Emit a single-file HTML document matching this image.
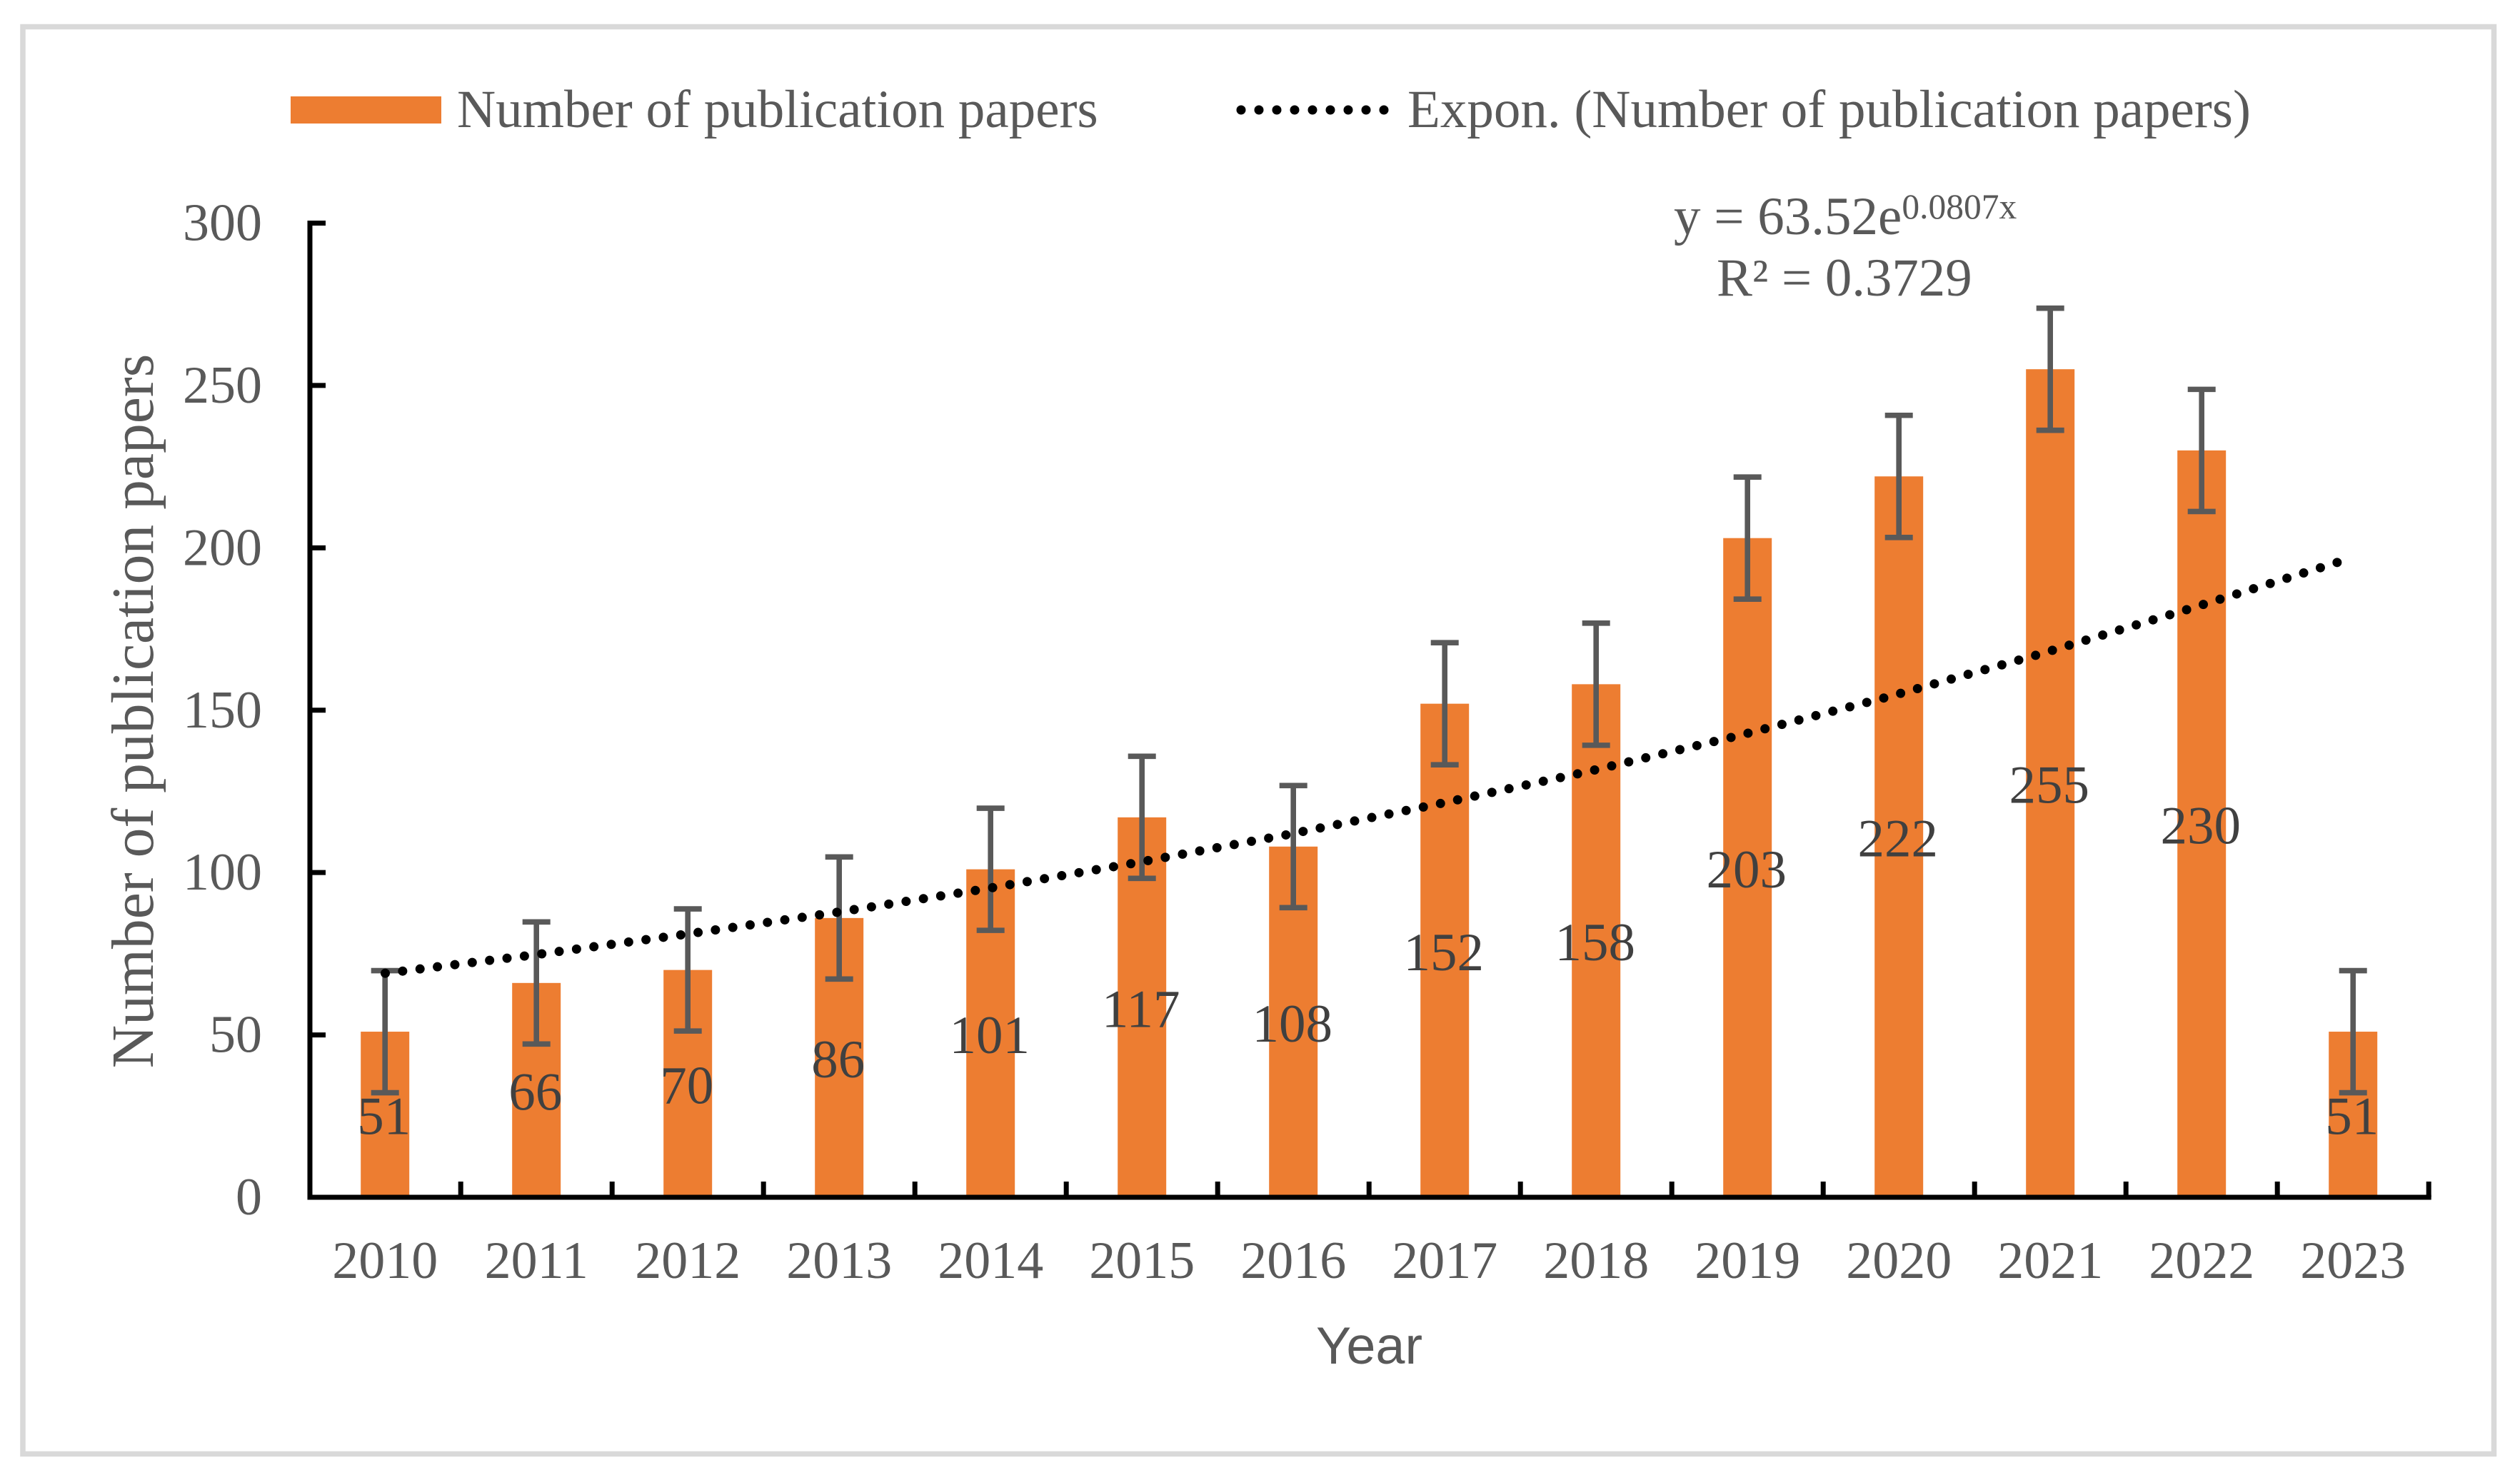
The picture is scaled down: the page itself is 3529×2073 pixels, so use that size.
<!DOCTYPE html>
<html lang="en">
<head>
<meta charset="utf-8">
<title>Number of publication papers by year</title>
<style>
html,body{margin:0;padding:0;background:#fff;width:3529px;height:2073px;overflow:hidden}
svg{display:block}
text{font-family:"Liberation Serif",serif;fill:#595959}
</style>
</head>
<body>
<svg id="chart" xmlns="http://www.w3.org/2000/svg" width="3529" height="2073" viewBox="0 0 3529 2073">
  <rect x="0" y="0" width="3529" height="2073" fill="#fff"/>
  <rect x="32" y="37.5" width="3460.5" height="1999" fill="#fff" stroke="#D9D9D9" stroke-width="7.5"/>

  <g>
    <rect x="407" y="135" width="211" height="38" fill="#ED7D31"/>
    <text x="640" y="178" font-size="75">Number of publication papers</text>
    <line x1="1738" y1="154" x2="1939" y2="154" stroke="#000" stroke-width="13" stroke-linecap="round" stroke-dasharray="0 25"/>
    <text x="1971" y="178" font-size="75">Expon. (Number of publication papers)</text>
  </g>

  <text x="2344" y="328" font-size="75">y = 63.52e<tspan font-size="49.5" dy="-22">0.0807x</tspan></text>
  <text x="2404" y="414" font-size="74.8">R² = 0.3729</text>

  <text transform="translate(214 996) rotate(-90)" text-anchor="middle" font-size="83.6">Number of publication papers</text>
  <text x="1843" y="1910" font-size="73" textLength="149" lengthAdjust="spacingAndGlyphs" style="font-family:'Liberation Sans',sans-serif">Year</text>

  <g id="bars"></g>
  <g id="errors"></g>
  <g id="axes"></g>
  <path id="trend" fill="none" stroke="#000" stroke-width="13" stroke-linecap="round" stroke-linejoin="round"/>
  <g id="labels"></g>
</svg>
<script>
const years = ['2010','2011','2012','2013','2014','2015','2016','2017','2018','2019','2020','2021','2022','2023'];
const paperCounts = [51,66,70,86,101,117,108,152,158,203,222,255,230,51];
const errorAmounts = [18.8,18.8,18.8,18.8,18.8,18.8,18.8,18.8,18.8,18.8,18.8,18.8,18.8,18.8];
const trendValues = [69,74.7,81,87.7,95,103,111.6,121,131,142,154,167,181,195.5];
const yTicks = [0,50,100,150,200,250,300];

const NS = 'http://www.w3.org/2000/svg';
const plotLeft = 433.2, plotBottom = 1677, plotTop = 312.5, yMax = 300, band = 212;
const plotRight = plotLeft + band * years.length;
const xScale = i => plotLeft + band * (i + 0.5);
const yScale = v => plotBottom - (v / yMax) * (plotBottom - plotTop);
const trendStep = (3273 - 539.5) / (years.length - 1);
const trendX = i => 539.5 + trendStep * i;

function make(tag, parent, attrs) {
  const el = document.createElementNS(NS, tag);
  for (const k in attrs) el.setAttribute(k, attrs[k]);
  parent.appendChild(el);
  return el;
}

const barsG = document.getElementById('bars');
const errG = document.getElementById('errors');
const axesG = document.getElementById('axes');
const labelsG = document.getElementById('labels');

paperCounts.forEach((v, i) => {
  const x = xScale(i);
  const bar = make('rect', barsG, {x: x - 34, y: yScale(v), width: 68, height: plotBottom - yScale(v), fill: '#ED7D31'});
  
  

  const e = errorAmounts[i];
  const err = make('path', errG, {
    d: 'M' + x + ' ' + yScale(v + e) + 'V' + yScale(v - e) +
       'M' + (x - 19.5) + ' ' + yScale(v + e) + 'H' + (x + 19.5) +
       'M' + (x - 19.5) + ' ' + yScale(v - e) + 'H' + (x + 19.5),
    stroke: '#595959', 'stroke-width': 7.6, fill: 'none'
  });
  
  

  const lab = make('text', labelsG, {x: x - 1.5, y: yScale(v / 2) + 27.5, 'text-anchor': 'middle', 'font-size': 75, style: 'fill:#404040'});
  lab.textContent = String(v);
  
  

  const xl = make('text', axesG, {x: x, y: 1790, 'text-anchor': 'middle', 'font-size': 74});
  xl.textContent = years[i];
  
  
});

const yLine = make('line', axesG, {x1: 434, y1: plotTop - 3.5, x2: 434, y2: plotBottom + 3.5, stroke: '#000', 'stroke-width': 7});



const xLine = make('line', axesG, {x1: 430.5, y1: plotBottom, x2: plotRight + 3.5, y2: plotBottom, stroke: '#000', 'stroke-width': 7});



yTicks.forEach(t => {
  const tick = make('line', axesG, {x1: 434, y1: yScale(t), x2: 456, y2: yScale(t), stroke: '#000', 'stroke-width': 7});
  
  

  const lab = make('text', axesG, {x: 367, y: yScale(t) + 24, 'text-anchor': 'end', 'font-size': 74});
  lab.textContent = String(t);
  
  
});

for (let i = 1; i <= years.length; i++) {
  const tx = plotLeft + band * i;
  const tick = make('line', axesG, {x1: tx, y1: 1655, x2: tx, y2: plotBottom, stroke: '#000', 'stroke-width': 7});
  
  
}

const trendPath = document.getElementById('trend');
trendPath.setAttribute('d',
  trendValues.map((v, i) => (i ? 'L' : 'M') + trendX(i).toFixed(1) + ' ' + yScale(v).toFixed(1)).join(''));
const trendLen = trendPath.getTotalLength();
const trendGap = trendLen / Math.round(trendLen / 24.5);
trendPath.setAttribute('stroke-dasharray', '0 ' + (trendGap - 0.001).toFixed(3));
</script>
</body>
</html>
